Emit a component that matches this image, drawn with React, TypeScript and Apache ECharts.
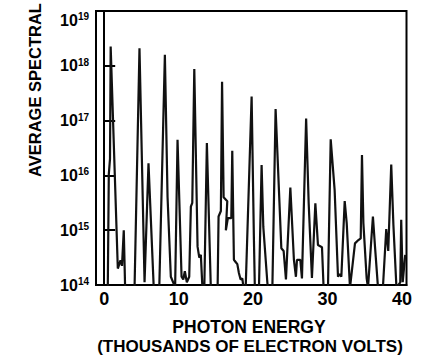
import React, { useEffect, useRef } from "react";
import * as echarts from "echarts";

// Photon energy (thousands of electron volts)
const energy = [
  0.48, 0.62, 0.78, 0.87, 1.83, 2.19, 2.39, 2.63, 2.82, 4.07, 4.74, 5.42, 5.95, 6.67,
  7.39, 8.15, 8.51, 8.95, 9.41, 9.52, 9.85, 10.39, 10.62, 10.83, 11.1, 11.42, 11.64,
  11.83, 12.1, 12.54, 12.77, 12.98, 13.21, 13.44, 13.79, 14.33, 15.23, 15.36, 15.67,
  15.83, 16.04, 16.53, 16.34, 16.61, 17.07, 17.2, 17.42, 17.65, 17.88, 18.09, 18.32,
  18.55, 18.76, 18.99, 19.8, 20.11, 20.24, 20.78, 21.14, 21.37, 21.91, 22.02, 22.58,
  23.02, 23.79, 24.1, 24.41, 25.0, 25.48, 25.75, 25.89, 26.34, 26.56, 27.12, 27.46,
  27.9, 28.36, 28.71, 29.25, 29.48, 30.05, 30.15, 30.42, 30.95, 31.4, 31.62, 31.85,
  32.3, 32.57, 33.01, 33.68, 34.14, 34.45, 34.62, 34.81, 35.25, 35.43, 36.09, 36.37,
  36.8, 37.41, 37.88, 38.15, 38.55, 38.84, 39.25, 39.76, 39.89, 40.09, 40.43,
];

// Average spectral value, as power of ten
const spectralExponent = [
  13.9, 16.02, 16.3, 18.35, 14.3, 14.45, 14.35, 15.0, 13.9, 13.9, 18.32, 14.05, 16.22, 13.9,
  13.9, 18.2, 15.6, 14.15, 14.0, 13.9, 16.65, 14.15, 14.1, 14.25, 14.05, 14.15, 15.43,
  15.5, 17.94, 14.7, 14.5, 14.55, 13.9, 13.9, 16.59, 13.9, 13.9, 15.25, 15.35,
  17.71, 15.6, 15.53, 15.0, 15.22, 15.22, 16.45, 14.46, 14.42, 14.38, 14.22, 14.1,
  14.12, 13.9, 13.9, 17.44, 14.82, 13.9, 13.9, 16.19, 15.06, 14.05, 13.9, 13.9,
  17.21, 14.67, 14.62, 14.1, 15.78, 14.46, 14.15, 14.46, 14.46, 14.12, 17.04, 15.5,
  14.13, 15.49, 14.73, 14.69, 13.9, 13.9, 14.69, 16.66, 15.73, 14.15, 14.2, 14.15,
  15.53, 15.13, 13.95, 14.76, 14.82, 14.85, 16.37, 15.13, 14.12, 13.95, 15.25, 14.7,
  13.9, 13.9, 15.02, 14.62, 16.2, 15.1, 13.95, 14.05, 15.19, 14.05, 14.55,
];

const xTickValues = [0, 10, 20, 30, 40];
const yTopExponent = 19;
const yTitle = "AVERAGE SPECTRAL";
const xTitleLines = ["PHOTON ENERGY", "(THOUSANDS OF ELECTRON VOLTS)"];

const FONT = "'Liberation Sans', Arial, Helvetica, sans-serif";

const richStyles = {
  b: { fontFamily: FONT, fontWeight: "bold", fontSize: 16, lineHeight: 17, color: "#000" },
  s: {
    fontFamily: FONT,
    fontWeight: "bold",
    fontSize: 10,
    lineHeight: 17,
    verticalAlign: "top",
    color: "#000",
    padding: [0, 0, 6, 0],
  },
};

export default function App() {
  const ref = useRef<HTMLDivElement>(null);

  useEffect(() => {
    if (!ref.current) return;
    const chart = echarts.init(ref.current, null, { renderer: "svg" });
    const data = energy.map((e, i) => [e, Math.pow(10, spectralExponent[i])]);

    chart.setOption({
      animation: false,
      backgroundColor: "#fff",
      grid: {
        left: 96,
        right: 16.5,
        top: 11,
        bottom: 71,
        show: true,
        borderColor: "#000",
        borderWidth: 2,
        backgroundColor: "transparent",
      },
      xAxis: {
        type: "value",
        min: -1.1,
        max: 40.6,
        splitLine: { show: false },
        axisLine: { show: true, lineStyle: { color: "#000", width: 2 } },
        axisTick: { show: false },
        axisLabel: {
          customValues: xTickValues,
          formatter: (v: number) => String(v),
          color: "#000",
          fontFamily: FONT,
          fontWeight: "bold",
          fontSize: 18,
          margin: 5,
        },
      },
      yAxis: {
        type: "log",
        logBase: 10,
        min: 1e14,
        max: 1e19,
        splitLine: { show: false },
        minorTick: { show: false },
        axisLine: { show: true, lineStyle: { color: "#000", width: 2 } },
        axisTick: { show: true, inside: true, length: 11, lineStyle: { color: "#000", width: 2 } },
        axisLabel: {
          margin: 7,
          showMaxLabel: false,
          color: "#000",
          formatter: (v: number) => `{b|10}{s|${Math.round(Math.log10(v))}}`,
          rich: richStyles,
        },
      },
      graphic: [
        {
          type: "text",
          x: 89,
          y: 20,
          style: {
            text: `{b|10}{s|${yTopExponent}}`,
            rich: richStyles,
            textAlign: "right",
            textVerticalAlign: "middle",
          },
        },
        {
          type: "text",
          x: 35,
          y: 90,
          rotation: Math.PI / 2,
          style: {
            text: yTitle,
            fontFamily: FONT,
            fontWeight: "bold",
            fontSize: 16.5,
            fill: "#000",
            textAlign: "center",
            textVerticalAlign: "middle",
          },
        },
        {
          type: "text",
          x: 249,
          y: 327,
          style: {
            text: xTitleLines[0],
            fontFamily: FONT,
            fontWeight: "bold",
            fontSize: 17.5,
            fill: "#000",
            textAlign: "center",
            textVerticalAlign: "middle",
          },
        },
        {
          type: "text",
          x: 250,
          y: 346,
          style: {
            text: xTitleLines[1],
            fontFamily: FONT,
            fontWeight: "bold",
            fontSize: 17,
            fill: "#000",
            textAlign: "center",
            textVerticalAlign: "middle",
          },
        },
      ],
      series: [
        {
          type: "line",
          data,
          showSymbol: false,
          symbol: "none",
          clip: true,
          lineStyle: { color: "#111", width: 2.2 },
        },
      ],
    });

    return () => chart.dispose();
  }, []);

  return (
    <div
      ref={ref}
      style={{ position: "fixed", left: 0, top: 0, width: 423, height: 356 }}
    />
  );
}
